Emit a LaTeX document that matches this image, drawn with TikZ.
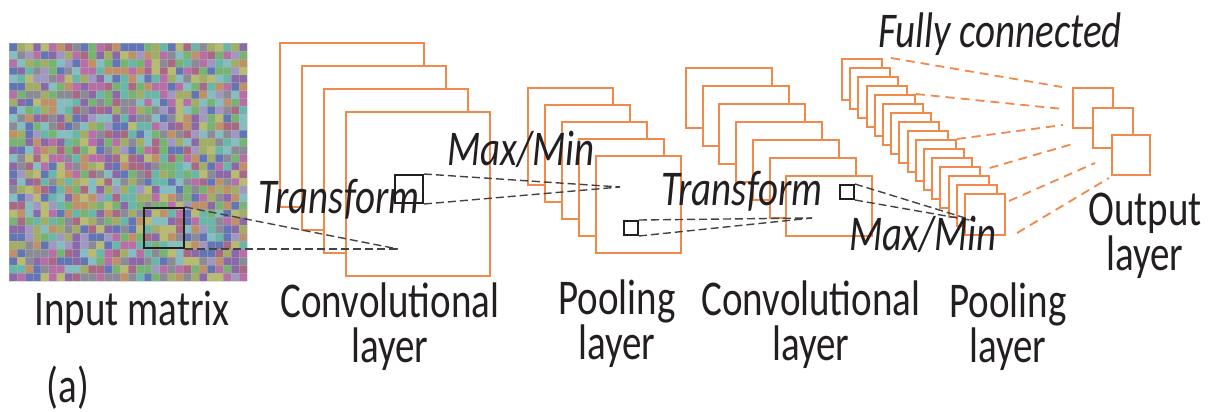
\documentclass[tikz,border=0pt]{standalone}
\usepackage{fontspec}
\setmainfont[FakeStretch=0.78]{Carlito}
\definecolor{orng}{HTML}{F0894A}
\definecolor{ink}{HTML}{231F20}
% couleurs des pixels
\definecolor{mc0}{HTML}{74BF6E}
\definecolor{mc1}{HTML}{A9B85E}
\definecolor{mc2}{HTML}{8E64B2}
\definecolor{mc3}{HTML}{5B72C2}
\definecolor{mc4}{HTML}{62C4B2}
\definecolor{mc5}{HTML}{C46CB0}
\definecolor{mc6}{HTML}{84CCD0}
\definecolor{mc7}{HTML}{8E8E9C}
\definecolor{mc8}{HTML}{CE9462}
\definecolor{mc9}{HTML}{B26486}
\definecolor{mc10}{HTML}{A99CD2}
\definecolor{mc11}{HTML}{C6C86A}
\begin{document}
\begin{tikzpicture}[x=0.5pt, y=-0.5pt,
    fmap/.style={draw=orng, line width=1pt, fill=white, inner sep=0pt, anchor=north west},
    kern/.style={draw=ink, line width=1pt, inner sep=0pt, anchor=north west},
    link/.style={ink!85, line width=0.7pt, dash pattern=on 4pt off 2pt},
    fc/.style={orng, line width=0.9pt, dash pattern=on 4.5pt off 3pt},
    lbl/.style={font=\fontsize{25}{22.5}\selectfont, text=ink, align=center, inner sep=0pt, anchor=base},
    op/.style={lbl, font=\fontsize{25}{22.5}\selectfont\itshape}]
\useasboundingbox (0,0) rectangle (1217,412);

% Matrice d'entrée
\pgfmathsetseed{7}
\foreach \i in {0,...,29} {
    \foreach \j in {0,...,29} {
        \pgfmathrandominteger{\k}{0}{11}
        \fill[mc\k!82!gray] ({9+7.93*\i},{43+7.93*\j}) rectangle ++(7.93,7.93);
    }
}
\foreach \i in {0,...,30} {
    \draw[gray!60, opacity=0.45, line width=0.25pt] ({9+7.93*\i},43) -- ++(0,238);
    \draw[gray!60, opacity=0.45, line width=0.25pt] (9,{43+7.93*\i}) -- ++(238,0);
}

% Couches (de l'arrière vers l'avant)
\foreach \i in {0,...,3}
    \node[fmap, minimum width=72pt, minimum height=82pt] (cA\i) at ({279+22*\i},{42+23*\i}) {};
\foreach \i in {0,...,4}
    \node[fmap, minimum width=42.5pt, minimum height=48.5pt] (pB\i) at ({527+17*\i},{87+17*\i}) {};
\foreach \i in {0,...,6}
    \node[fmap, minimum width=43pt, minimum height=30pt] (cC\i) at ({685+16.7*\i},{67+18*\i}) {};
\foreach \i in {0,...,15}
    \node[fmap, minimum width=20pt, minimum height=20.5pt] (pD\i) at ({841+8.2*\i},{58+9*\i}) {};
\node[fmap, minimum size=20pt] (o1) at (1072,87) {};
\node[fmap, minimum size=20pt] (o2) at (1092,107) {};
\node[fmap, minimum width=19pt, minimum height=20pt] (o3) at (1111,134) {};

% Fenêtres
\node[kern, minimum size=20pt] (kA) at (143,207) {};
\node[kern, minimum size=14pt] (kB) at (394,174) {};
\node[kern, minimum size=7pt] (kC) at (623,220) {};
\node[kern, minimum size=7pt] (kD) at (839,184) {};

% Projections
\coordinate (pA) at (398,249);
\coordinate (pB) at (620,187);
\coordinate (pC) at (812,218);
\coordinate (pD) at (975,221);
\draw[link] (kA.north east) -- (pA);
\draw[link] (kA.south east) -- (pA);
\draw[link] (kB.north east) -- (pB);
\draw[link] (kB.south east) -- (pB);
\draw[link] (kC.north east) -- (pC);
\draw[link] (kC.south east) -- (pC);
\draw[link] (kD.north east) -- (pD);
\draw[link] (kD.south east) -- (pD);

% Connexions complètes
\draw[fc] ([shift={(8,0)}]pD0.north east) -- ([shift={(-10,0)}]o1.north west);
\draw[fc] (pD4.north east) -- ([shift={(-9,1)}]o1.west);
\draw[fc] (pD9.north east) -- ([shift={(-9,-4)}]o1.south west);
\draw[fc] ([shift={(0,-7)}]pD13.north east) -- ([shift={(-16,-6)}]o2.south west);
\draw[fc] ([shift={(3,8)}]pD15.north east) -- ([shift={(-16,8)}]o3.west);
\draw[fc] ([shift={(11,-3)}]pD15.south east) -- ([shift={(-2,2)}]o3.south west);

% Textes
\node[lbl] (tIn) at (132,325) {Input matrix};
\node[lbl] (tA) at (68,402) {(a)};
\node[lbl] (tC1) at (390,362) {Convolutional\\layer};
\node[lbl] (tP1) at (617,359) {Pooling\\layer};
\node[lbl] (tC2) at (811,360) {Convolutional\\layer};
\node[lbl] (tP2) at (1008,362) {Pooling\\layer};
\node[lbl] (tOut) at (1145,270) {Output\\layer};
\node[op] (tT1) at (339,213) {Transform};
\node[op] (tM1) at (521,165) {Max/Min};
\node[op] (tT2) at (742,205) {Transform};
\node[op] (tM2) at (923,250) {Max/Min};
\node[op] (tFc) at (1000,47) {Fully connected};
\end{tikzpicture}
\end{document}
